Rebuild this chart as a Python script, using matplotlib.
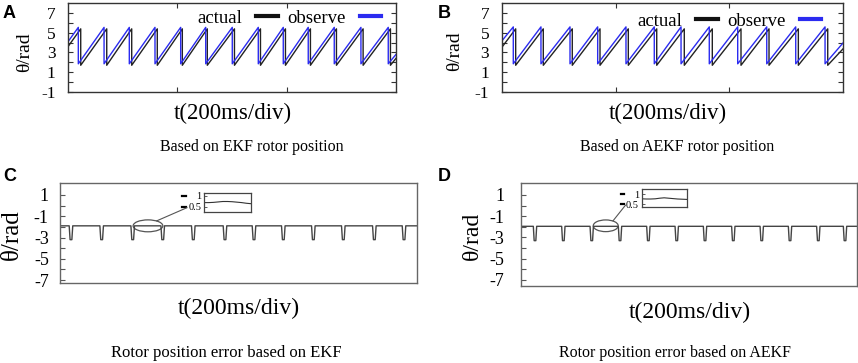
import math
import matplotlib
matplotlib.use('Agg')
import matplotlib.pyplot as plt
from matplotlib.patches import Ellipse, ConnectionPatch
from matplotlib.lines import Line2D

# ---------------- data ----------------
T_MAX = 600  # ms, three divisions of 200 ms

# Panel A (EKF) sawtooth peaks, ms
a_obs_peaks = [18.8, 65.9, 112.1, 159.1, 206.1, 251.9, 300.5, 348.1, 393.8, 439.5, 487.1, 535.9, 585.9]
a_act_peaks = [23.2, 70.8, 116.5, 163.3, 209.1, 254.8, 304.5, 352.1, 397.8, 443.5, 491.1, 539.9, 589.9]
a_obs_hi, a_obs_lo, a_obs_start, a_obs_end = 5.55, 1.85, 4.1, 2.8
a_act_hi, a_act_lo, a_act_start, a_act_end = 5.4, 1.7, 3.6, 2.4

# Panel B (AEKF)
b_obs_peaks = [20.4, 69.0, 120.0, 168.6, 218.3, 268.0, 315.0, 364.6, 414.5, 465.5, 516.4, 567.9]
b_act_peaks = [24.6, 73.1, 124.0, 172.7, 222.4, 272.3, 320.7, 369.9, 420.3, 469.5, 521.0, 572.6]
b_obs_hi, b_obs_lo, b_obs_start, b_obs_end = 5.6, 1.85, 4.15, 4.0
b_act_hi, b_act_lo, b_act_start, b_act_end = 5.4, 1.7, 3.5, 3.4

# Panel C (EKF error) dips, ms
c_dips = [18.5, 70.1, 122.3, 172.8, 224.2, 277.5, 326.3, 375.6, 426.1, 476.5, 528.7, 578.6]
c_base, c_low = -1.9, -3.2
# Panel D (AEKF error) dips, ms
d_dips = [25.5, 76.1, 126.8, 177.3, 227.9, 278.6, 329.1, 379.6, 430.4, 480.9, 531.4, 579.1]
d_base, d_low = -1.95, -3.3
dip_width = 6.0

# zoom marks (ellipse centre / size in data units) and inset curves
c_zoom_center, c_zoom_size = (148.0, -1.9), (50.0, 1.12)
d_zoom_center, d_zoom_size = (151.8, -1.9), (44.6, 1.1)
c_inset_vals = [0.70, 0.70, 0.71, 0.73, 0.75, 0.75, 0.74, 0.72, 0.70, 0.67, 0.65]
d_inset_vals = [0.76, 0.75, 0.75, 0.76, 0.79, 0.81, 0.79, 0.77, 0.75, 0.74, 0.73]
inset_ticks = [0.5, 1]
inset_labels = ['0.5', '1']

a_ylim, c_ylim, d_ylim = (-1, 8), (-7.3, 2.1), (-7.57, 2.13)
a_yticks = list(range(-1, 8))
c_yticks = list(range(-7, 2))

legend_labels = ['actual', 'observe']
xlabel_text = 't(200ms/div)'
ylabel_text = 'θ/rad'

# ---------------- helpers ----------------
def sawtooth(peaks, hi, lo, start, end):
    t, y = [0.0], [start]
    for p in peaks:
        t += [p, p]
        y += [hi, lo]
    t.append(T_MAX); y.append(end)
    return t, y

def dip_trace(centers, base, low, width):
    t, y = [0.0], [base]
    for c in centers:
        t += [c - width / 2, c - width / 4, c + width / 4, c + width / 2]
        y += [base, low, low, base]
    t.append(T_MAX); y.append(base)
    return t, y

SERIF = ['Liberation Serif', 'DejaVu Serif']
SANS = ['Liberation Sans', 'DejaVu Sans']
plt.rcParams['font.family'] = SERIF

fig = plt.figure(figsize=(8.58, 3.63), dpi=100)

def odd_labels(vals):
    return [str(v) if v % 2 != 0 else '' for v in vals]

def style_top(ax, ylab_xy, xlab_xy):
    ax.set_xlim(0, T_MAX)
    ax.set_ylim(*a_ylim)
    ax.set_yticks(a_yticks)
    ax.set_yticklabels(odd_labels(a_yticks))
    ax.set_xticks([200, 400])
    ax.set_xticklabels([])
    ax.tick_params(axis='both', direction='in', length=3.5, width=0.8,
                   top=True, right=True, labelsize=12.5, colors='#333333',
                   labelcolor='black')
    ax.tick_params(axis='y', pad=9)
    for s in ax.spines.values():
        s.set_color('#333333'); s.set_linewidth(1.0)
    ax.set_xlabel(xlabel_text, fontsize=16.5, va='top')
    ax.xaxis.set_label_coords(*xlab_xy)
    ax.set_ylabel(ylabel_text, fontsize=14)
    ax.yaxis.set_label_coords(*ylab_xy)

def style_bot(ax, ylim, ylabelsize, pad, ylab_xy, xlab_xy):
    ax.set_xlim(0, T_MAX)
    ax.set_ylim(*ylim)
    ax.set_yticks(c_yticks)
    ax.set_yticklabels(odd_labels(c_yticks))
    ax.set_xticks([])
    ax.tick_params(axis='y', direction='in', length=3.5, width=0.8,
                   labelsize=13, colors='#555555', labelcolor='black', pad=pad)
    for s in ax.spines.values():
        s.set_color('#666666'); s.set_linewidth(1.0)
    ax.set_xlabel(xlabel_text, fontsize=17, va='top')
    ax.xaxis.set_label_coords(*xlab_xy)
    ax.set_ylabel(ylabel_text, fontsize=ylabelsize)
    ax.yaxis.set_label_coords(*ylab_xy)

# ---- panel A
axA = fig.add_axes([0.0793, 0.747, 0.3822, 0.244])
t, y = sawtooth(a_act_peaks, a_act_hi, a_act_lo, a_act_start, a_act_end)
axA.plot(t, y, color='#222222', lw=1.0)
t, y = sawtooth(a_obs_peaks, a_obs_hi, a_obs_lo, a_obs_start, a_obs_end)
axA.plot(t, y, color='#2b2bf0', lw=1.0)
style_top(axA, (-0.107, 0.45), (0.503, -0.128))

# ---- panel B
axB = fig.add_axes([0.5847, 0.747, 0.3982, 0.244])
t, y = sawtooth(b_act_peaks, b_act_hi, b_act_lo, b_act_start, b_act_end)
axB.plot(t, y, color='#222222', lw=1.0)
t, y = sawtooth(b_obs_peaks, b_obs_hi, b_obs_lo, b_obs_start, b_obs_end)
axB.plot(t, y, color='#2b2bf0', lw=1.0)
style_top(axB, (-0.113, 0.46), (0.485, -0.128))

for ax, anchor in ((axA, (0.955, 0.83)), (axB, (0.935, 0.80))):
    handles = [Line2D([], [], color='#111111', lw=3), Line2D([], [], color='#2b2bf0', lw=3)]
    ax.legend(handles, legend_labels, ncol=2, markerfirst=False, frameon=False,
              loc='center right', bbox_to_anchor=anchor, handlelength=1.15,
              handletextpad=0.75, columnspacing=0.5, borderaxespad=0,
              borderpad=0, prop={'family': SERIF, 'size': 13.5})

# ---- panel C
axC = fig.add_axes([0.0699, 0.2196, 0.4158, 0.2755])
t, y = dip_trace(c_dips, c_base, c_low, dip_width)
axC.plot(t, y, color='#444444', lw=1.0)
style_bot(axC, c_ylim, 18, 8, (-0.104, 0.49), (0.502, -0.147))

# ---- panel D
axD = fig.add_axes([0.6069, 0.212, 0.3916, 0.284])
t, y = dip_trace(d_dips, d_base, d_low, dip_width)
axD.plot(t, y, color='#444444', lw=1.0)
style_bot(axD, d_ylim, 17, 12, (-0.112, 0.485), (0.504, -0.155))

# ---- insets with zoom ellipses
def add_inset(ax, rect, vals, center, size, ylim, conn_end):
    e = Ellipse(center, size[0], size[1], fill=False, edgecolor='#555555', lw=0.9)
    ax.add_patch(e)
    ins = fig.add_axes(rect)
    ins.plot(range(len(vals)), vals, color='#333333', lw=0.8)
    ins.set_xlim(0, len(vals) - 1)
    ins.set_ylim(*ylim)
    ins.set_xticks([])
    ins.set_yticks(inset_ticks)
    ins.set_yticklabels(inset_labels)
    ins.tick_params(axis='y', direction='in', length=2, width=0.6, labelsize=7.5, pad=2,
                    colors='#444444', labelcolor='black')
    for s in ins.spines.values():
        s.set_color('#444444'); s.set_linewidth(0.9)
    for v in inset_ticks:
        ins.plot([-0.47, -0.39], [v, v], transform=ins.get_yaxis_transform(),
                 color='black', lw=1.6, clip_on=False)
    ang = math.radians(55)
    p = (center[0] + size[0] / 2 * math.cos(ang), center[1] + size[1] / 2 * math.sin(ang))
    con = ConnectionPatch(xyA=p, coordsA=ax.transData, xyB=conn_end, coordsB=ins.transAxes,
                          color='#555555', lw=0.8)
    fig.add_artist(con)

add_inset(axC, [0.2378, 0.416, 0.0548, 0.0523], c_inset_vals, c_zoom_center, c_zoom_size,
          (0.273, 1.136), (-0.36, 0.23))
add_inset(axD, [0.7479, 0.4289, 0.0524, 0.0496], d_inset_vals, d_zoom_center, d_zoom_size,
          (0.335, 1.235), (-0.36, 0.12))

# ---- captions and panel letters
fig.text(252 / 858, 1 - 147 / 363, 'Based on EKF rotor position', ha='center', va='center', fontsize=11.5)
fig.text(677 / 858, 1 - 147 / 363, 'Based on AEKF rotor position', ha='center', va='center', fontsize=11.5)
fig.text(226 / 858, 1 - 353 / 363, 'Rotor position error based on EKF', ha='center', va='center', fontsize=12)
fig.text(675 / 858, 1 - 353 / 363, 'Rotor position error based on AEKF', ha='center', va='center', fontsize=11.5)
for lbl, x, y in (('A', 3, 14), ('B', 438, 14), ('C', 3, 177), ('D', 438, 177)):
    fig.text(x / 858, 1 - y / 363, lbl, ha='left', va='center', fontsize=13,
             fontweight='bold', family=SANS)

fig.savefig('out.png', dpi=100)
